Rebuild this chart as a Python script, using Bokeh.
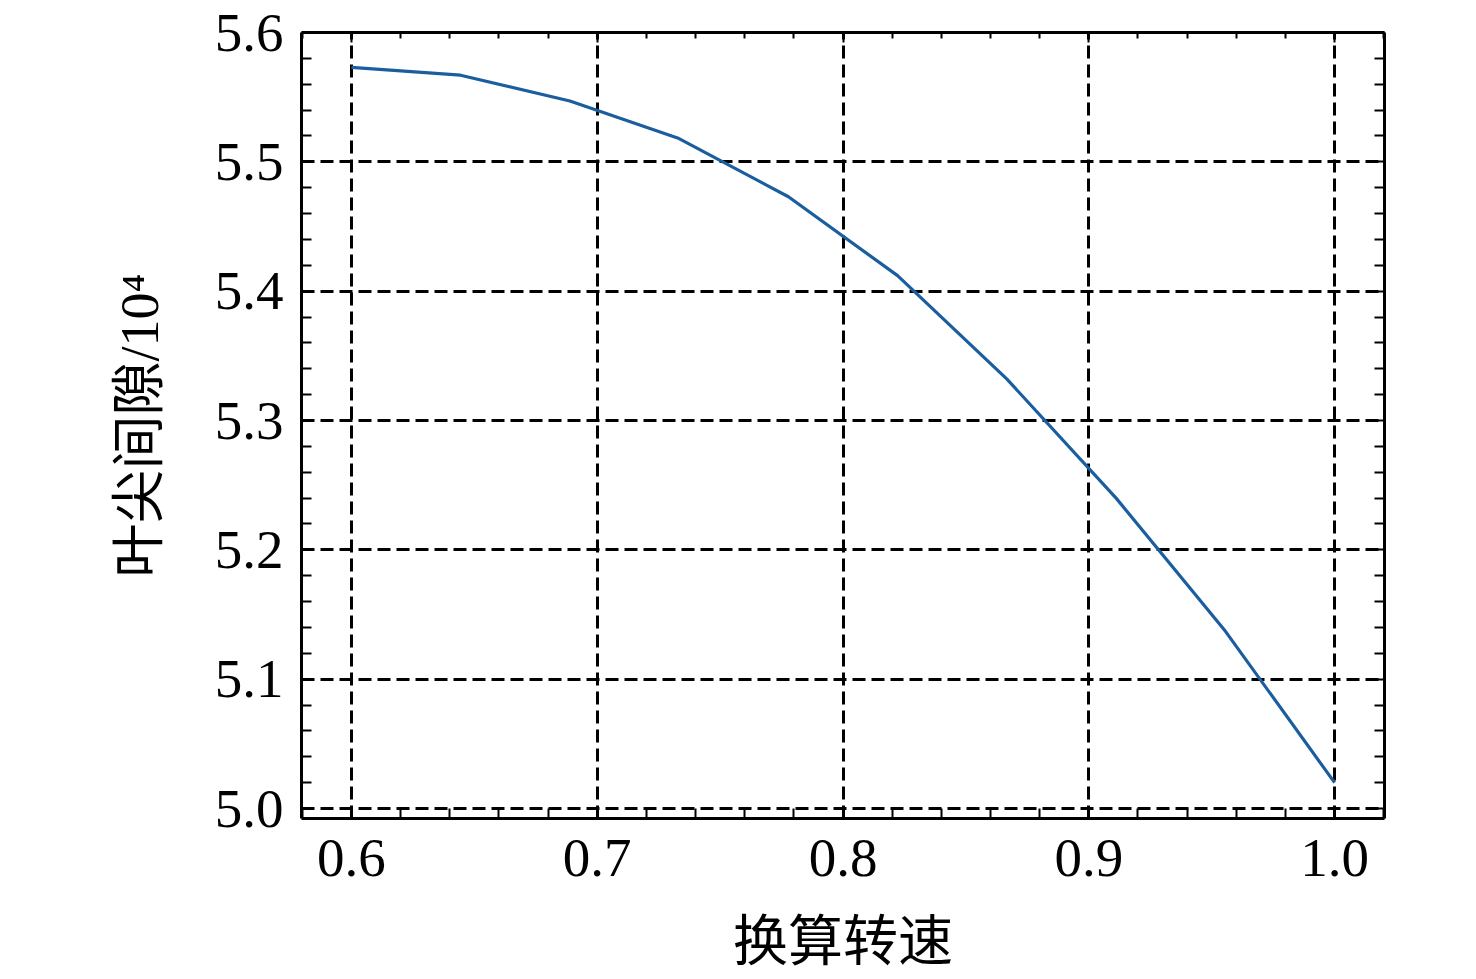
from bokeh.plotting import figure
from bokeh.models import LinearAxis, FixedTicker, Range1d, PrintfTickFormatter
from bokeh.embed import file_html
from bokeh.resources import INLINE

# data
speed = [0.6, 0.6444, 0.6889, 0.7333, 0.7778, 0.8222, 0.8667, 0.9111, 0.9556, 1.0]
clearance = [5.573, 5.567, 5.547, 5.518, 5.473, 5.412, 5.332, 5.240, 5.137, 5.020]
x_ticks = [0.6, 0.7, 0.8, 0.9, 1.0]
y_ticks = [5.0, 5.1, 5.2, 5.3, 5.4, 5.5, 5.6]
x_minor = [0.58, 0.62, 0.64, 0.66, 0.68, 0.72, 0.74, 0.76, 0.78, 0.82, 0.84, 0.86, 0.88,
           0.92, 0.94, 0.96, 0.98, 1.02]
y_minor = [5.02, 5.04, 5.06, 5.08, 5.12, 5.14, 5.16, 5.18, 5.22, 5.24, 5.26, 5.28,
           5.32, 5.34, 5.36, 5.38, 5.42, 5.44, 5.46, 5.48, 5.52, 5.54, 5.56, 5.58]
x_label = "换算转速"
y_label = "叶尖间隙/10⁴"

SERIF = "'Liberation Serif', 'Times New Roman', 'Noto Sans CJK SC', serif"

p = figure(frame_width=1083, frame_height=786,
           min_border_left=301, min_border_right=84, min_border_top=32, min_border_bottom=153,
           x_range=Range1d(0.5797, 1.0203), y_range=Range1d(4.9923, 5.6),
           output_backend="svg", toolbar_location=None,
           x_axis_location=None, y_axis_location=None)
p.outline_line_color = None
p.background_fill_color = "white"
p.border_fill_color = "white"

p.line(speed, clearance, line_color="#1a5e9f", line_width=3.2)


def style_axis(ax, ticks, minor, labels=True):
    ax.ticker = FixedTicker(ticks=ticks, minor_ticks=minor)
    ax.formatter = PrintfTickFormatter(format="%.1f")
    ax.axis_line_width = 3
    ax.axis_line_color = "black"
    ax.major_tick_in = 10
    ax.major_tick_out = 0
    ax.minor_tick_in = 10
    ax.minor_tick_out = 0
    ax.major_tick_line_width = 2
    ax.minor_tick_line_width = 2
    ax.major_tick_line_color = "black"
    ax.minor_tick_line_color = "black"
    ax.major_label_text_font = SERIF
    ax.major_label_text_font_size = "55px"
    ax.major_label_text_color = "black"
    if not labels:
        ax.major_label_text_font_size = "0px"
        ax.major_label_text_alpha = 0


bottom = LinearAxis()
style_axis(bottom, x_ticks, x_minor)
bottom.major_label_standoff = 21
bottom.axis_label = x_label
bottom.axis_label_text_font = SERIF
bottom.axis_label_text_font_size = "55px"
bottom.axis_label_text_font_style = "normal"
bottom.axis_label_text_color = "black"
bottom.axis_label_standoff = 32
p.add_layout(bottom, "below")

left = LinearAxis()
style_axis(left, y_ticks, y_minor)
left.major_label_standoff = 18
left.axis_label = y_label
left.axis_label_text_font = SERIF
left.axis_label_text_font_size = "54px"
left.axis_label_text_font_style = "normal"
left.axis_label_text_color = "black"
left.axis_label_standoff = 42
p.add_layout(left, "left")

top = LinearAxis()
style_axis(top, x_ticks, x_minor, labels=False)
top.minor_tick_in = 6
p.add_layout(top, "above")

right = LinearAxis()
style_axis(right, y_ticks, y_minor, labels=False)
p.add_layout(right, "right")

for g in (p.xgrid, p.ygrid):
    g.grid_line_color = "black"
    g.grid_line_width = 3
    g.grid_line_dash = "13 6"

p.xgrid.ticker = FixedTicker(ticks=x_ticks)
p.ygrid.ticker = FixedTicker(ticks=y_ticks)

open("out.html", "w").write(file_html(p, INLINE))
